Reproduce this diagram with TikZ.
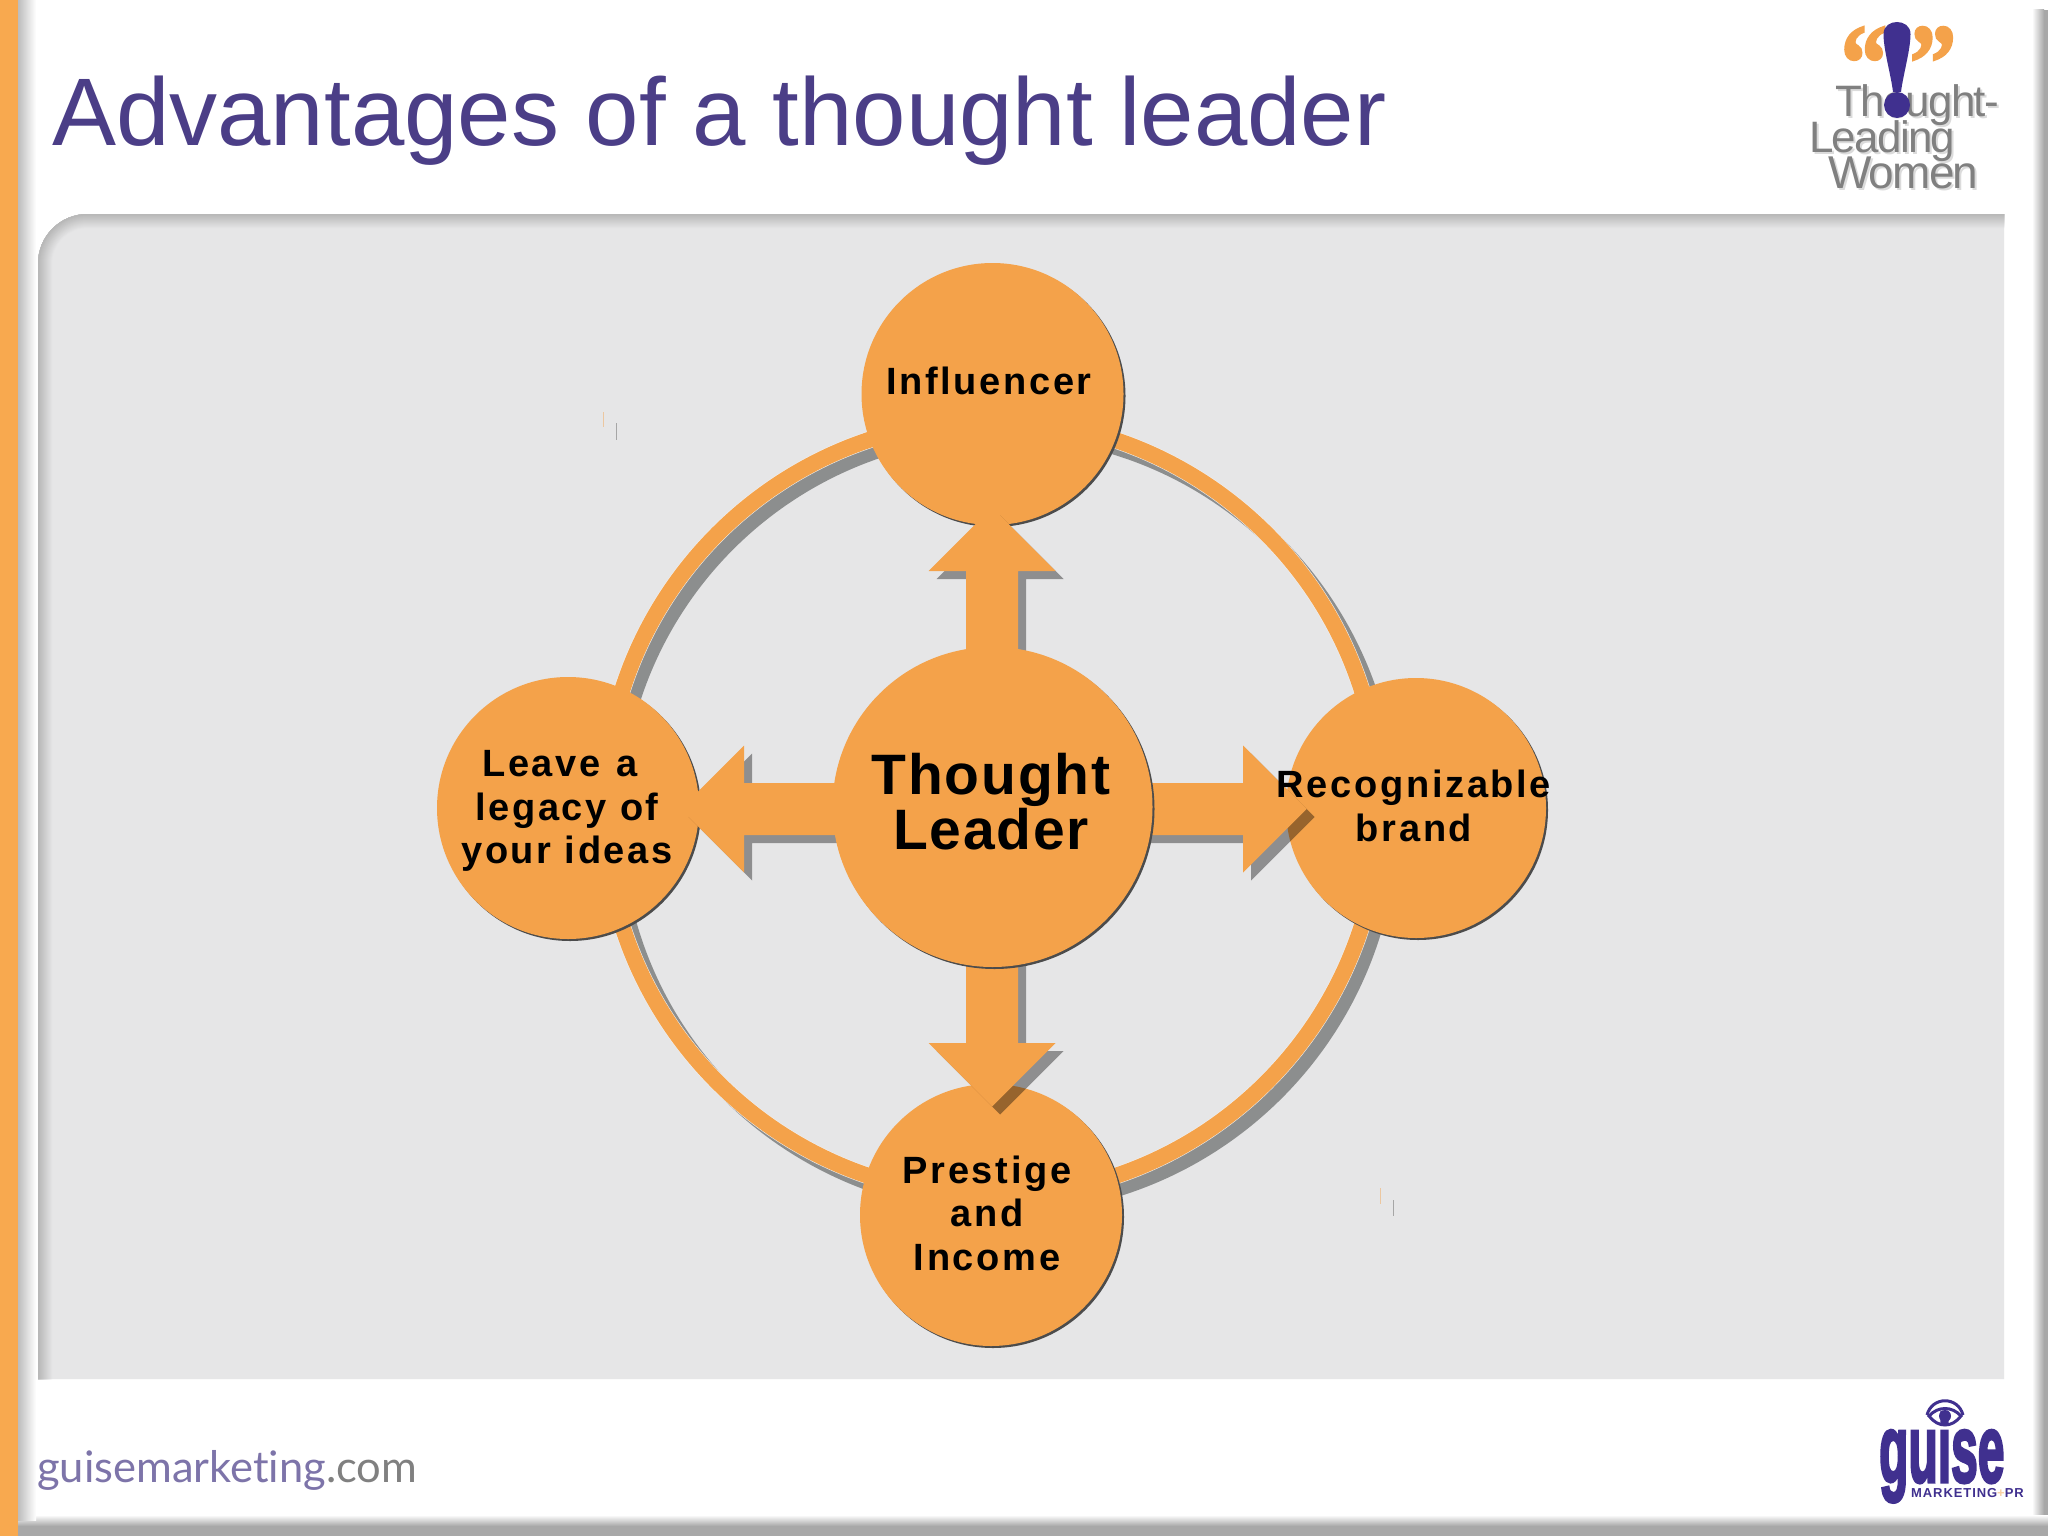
\documentclass[tikz,border=0pt]{standalone}
\usepackage{fontspec}
\setmainfont{Liberation Sans}
\newfontfamily\bubfont[LetterSpace=7]{Liberation Sans}
\newfontfamily\corefont[LetterSpace=3]{Liberation Sans}
\newfontfamily\logofont[LetterSpace=-4]{Liberation Sans}
\newfontfamily\guisefont[FakeBold=3.5]{Liberation Sans}
\newfontfamily\smallmark[LetterSpace=7]{Liberation Sans}
\newfontfamily\footfont[Ligatures=NoCommon]{Lato}
\newfontfamily\quotefont[FakeBold=2]{Liberation Serif}
\definecolor{slideorange}{HTML}{F4A24A}
\definecolor{barorange}{HTML}{F8A94F}
\definecolor{panelfill}{HTML}{E6E6E7}
\definecolor{panelshade}{HTML}{B8B8B8}
\definecolor{ringshade}{HTML}{8C8E8E}
\definecolor{titlepurple}{HTML}{4B3E87}
\definecolor{logopurple}{HTML}{40308F}
\definecolor{logogray}{HTML}{808080}
\definecolor{framegray}{HTML}{A8A8A8}
\tikzset{
  bub/.style={circle,fill=slideorange,inner sep=0pt,outer sep=0pt},
  crescent/.style={fill=black!70},
  bubtext/.style={align=center,inner sep=0pt,text=black,font=\bubfont\bfseries\fontsize{38}{43.5}\selectfont},
  coretext/.style={align=center,inner sep=0pt,text=black,font=\corefont\bfseries\fontsize{57}{55}\selectfont},
  blockshadow/.style={fill=black,opacity=0.38},
  blockfill/.style={fill=slideorange},
  logotext/.style={anchor=base west,inner sep=0pt,text=logogray,font=\logofont\fontsize{44}{44}\selectfont},
  logoghost/.style={anchor=base west,inner sep=0pt,text=black!14,font=\logofont\fontsize{44}{44}\selectfont},
  womentext/.style={anchor=base west,inner sep=0pt,text=logogray,font=\logofont\fontsize{46}{46}\selectfont},
  womenghost/.style={anchor=base west,inner sep=0pt,text=black!14,font=\logofont\fontsize{46}{46}\selectfont},
  quotemark/.style={anchor=base,inner sep=0pt,text=slideorange,xscale=0.85,font=\quotefont\bfseries\fontsize{110}{110}\selectfont},
}
% #1 bubble name, #2 x, #3 y, #4 radius
\newcommand\bubble[4]{%
  \fill[crescent] ({#2+2},{#3+2}) circle (#4);
  \node[bub,minimum size={2*#4}] (#1) at (#2,#3) {};
}
% #1 distance of head base from the centre
\newcommand\blockpath[1]{(100,-26) -- (#1,-26) -- (#1,-63.5) -- ({#1+63.5},0) -- (#1,63.5) -- (#1,26) -- (100,26) -- cycle}
% #1 anchor coordinate, #2 rotation, #3 head base distance
\newcommand\blockshade[3]{\fill[blockshadow,shift={(#1)},shift={(8,8)},rotate=#2] \blockpath{#3};}
\newcommand\blockarrow[3]{\fill[blockfill,shift={(#1)},rotate=#2] \blockpath{#3};}
\begin{document}
\begin{tikzpicture}[x=1pt,y=-1pt]
\useasboundingbox (0,0) rectangle (2048,1536);
\fill[white] (0,0) rectangle (2048,1536);
% slide frame
\shade[left color=white,right color=framegray] (2032,10) rectangle (2044,1536);
\fill[framegray] (2044,10) rectangle (2048,1536);
\shade[top color=white,bottom color=framegray] (18,1515) rectangle (2048,1526);
\fill[framegray] (18,1526) rectangle (2048,1536);
\shade[left color=black!26,right color=white] (18,0) rectangle (36,1520);
\fill[barorange] (0,0) rectangle (18,1536);
% panel
\fill[panelfill] (38,1379) -- (38,264) .. controls (38,236) and (60,214) .. (88,214) -- (2004,214) -- (2004,1379) -- cycle;
\begin{scope}
\clip (38,1379) -- (38,264) .. controls (38,236) and (60,214) .. (88,214) -- (2004,214) -- (2004,1379) -- cycle;
\foreach \i in {0,...,13}{
  \pgfmathsetmacro\wd{2*(14-\i)}
  \pgfmathsetmacro\pct{(\i+1)/14*100}
  \draw[color=panelshade!\pct!panelfill,line width=\wd pt] (38,1400) -- (38,264) .. controls (38,236) and (60,214) .. (88,214) -- (2010,214);
}
\end{scope}
% title
\node[anchor=base west,inner sep=0pt,text=titlepurple,font=\fontsize{96}{96}\selectfont] (title) at (52,146) {Advantages of a thought leader};
% ring
\coordinate (ctr) at (992,807);
\coordinate (ctrh) at (992,809);
\coordinate (ringc) at (992,808);
\coordinate (ringshadow) at (1002,818);
\draw[ringshade,line width=16pt] (ringshadow) circle (388);
\draw[black!5,line width=17pt] (ringc) circle (388);
\draw[slideorange,line width=16pt] (ringc) circle (388);
% stray marks
\draw[slideorange!45!panelfill,line width=1pt] (603,412) -- (603,427);
\draw[black!35,line width=1pt] (616,423) -- (616,440);
\draw[slideorange!45!panelfill,line width=1pt] (1380,1188) -- (1380,1204);
\draw[black!35,line width=1pt] (1393,1200) -- (1393,1216);
% outer bubbles
\bubble{inf}{992.5}{394}{131}
\bubble{legacy}{568}{808}{131}
\bubble{brand}{1416}{808}{130}
\bubble{prest}{991}{1215}{131}
% arrows
\blockshade{ctr}{90}{236}
\blockshade{ctrh}{0}{251}
\blockshade{ctr}{-90}{236}
\blockshade{ctrh}{180}{248}
\blockarrow{ctr}{90}{236}
\blockarrow{ctrh}{0}{251}
\blockarrow{ctr}{-90}{236}
\blockarrow{ctrh}{180}{248}
% centre
\bubble{core}{992.5}{807}{160}
% labels
\node[bubtext] (inflabel) at (989,381) {Influencer};
\node[bubtext] (legacylabel) at (567,811) {Leave\hspace{3pt} a\hspace*{14pt}\\legacy of\\your ideas};
\node[bubtext] (brandlabel) at (1414,806) {Recognizable\\brand};
\node[bubtext] (prestlabel) at (987,1213) {Prestige\\and\\Income};
\node[coretext] (corelabel) at (991,802) {Thought\\Leader};
% Thought-Leading Women logo
\node[logoghost] (g1) at (1837,119) {Thought-};
\node[logoghost] (g2) at (1811,155) {Leading};
\node[womenghost] (g3) at (1830,190) {Women};
\node[logotext] (t1) at (1835,117) {Thought-};
\node[logotext] (t2) at (1809,153) {Leading};
\node[womentext] (t3) at (1828,188) {Women};
\node[quotemark] (lq) at (1864,100) {“};
\node[quotemark] (rq) at (1933,100) {”};
\fill[logopurple] (1883.5,34) .. controls (1883.5,18) and (1910.5,18) .. (1910.5,34) .. controls (1910.5,50) and (1903,75) .. (1901,92) -- (1893,92) .. controls (1891,75) and (1883.5,50) .. (1883.5,34) -- cycle;
\fill[logopurple] (1897,105) circle (13);
% guise logo
\draw[logopurple,line width=3pt] (1927,1415) .. controls (1932,1396) and (1958,1396) .. (1963,1415);
\draw[logopurple,line width=3pt] (1929,1416) .. controls (1938,1406) and (1952,1406) .. (1961,1416) .. controls (1952,1428) and (1938,1428) .. (1929,1416) -- cycle;
\fill[logopurple] (1945,1416) circle (6);
\fill[slideorange!70!logopurple] (1945,1416) circle (2.5);
\node[anchor=base west,inner sep=0pt,text=logopurple,font=\guisefont\bfseries\fontsize{96}{96}\selectfont,xscale=0.5] (guise) at (1879,1482) {guise};
\node[anchor=base west,inner sep=0pt,text=logopurple,font=\smallmark\bfseries\fontsize{13}{13}\selectfont] (marketing) at (1911,1497) {MARKETING\textcolor{slideorange!50}{+}PR};
% footer
\node[anchor=base west,inner sep=0pt,font=\footfont\fontsize{43.5}{44}\selectfont,text=titlepurple!72] (foot) at (37,1482) {guisemarketing\textcolor{black!50}{.com}};
\end{tikzpicture}
\end{document}
